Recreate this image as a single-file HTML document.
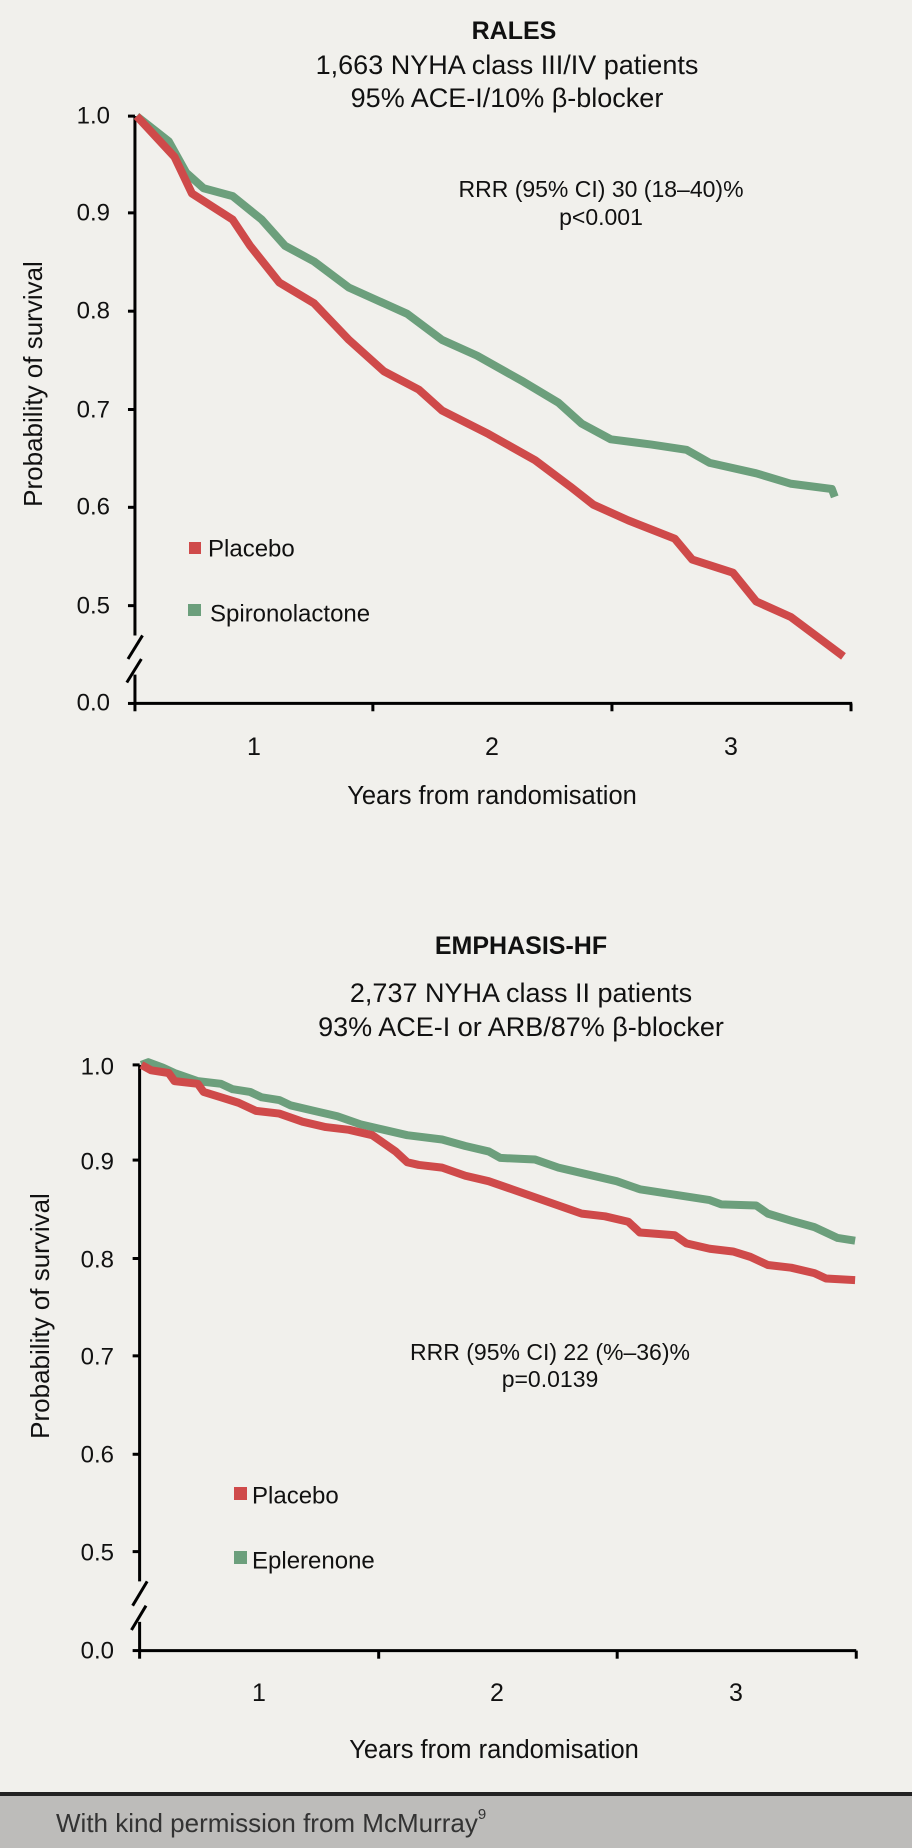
<!DOCTYPE html>
<html><head><meta charset="utf-8"><style>
html,body{margin:0;padding:0;background:#f1f0ec;}
svg{display:block;font-family:"Liberation Sans",sans-serif;}
</style></head><body>
<svg width="912" height="1848" viewBox="0 0 912 1848" xmlns="http://www.w3.org/2000/svg">
<rect width="912" height="1848" fill="#f1f0ec"/>
<!-- TOP CHART -->
<g text-anchor="middle" fill="#111" dominant-baseline="central">
<text x="514" y="31" font-size="25" font-weight="bold">RALES</text>
<text x="507" y="65" font-size="27">1,663 NYHA class III/IV patients</text>
<text x="507" y="98" font-size="27">95% ACE-I/10% β-blocker</text>
<text x="601" y="189" font-size="23">RRR (95% CI) 30 (18–40)%</text>
<text x="601" y="217" font-size="23">p&lt;0.001</text>
<text x="492" y="796" font-size="25.5">Years from randomisation</text>
<text x="254" y="747" font-size="25">1</text>
<text x="492" y="747" font-size="25">2</text>
<text x="731" y="747" font-size="25">3</text>
<text transform="translate(33,384) rotate(-90)" font-size="26">Probability of survival</text>
</g>
<g text-anchor="end" font-size="24" fill="#111" dominant-baseline="central">
<text x="110" y="116">1.0</text><text x="110" y="213">0.9</text><text x="110" y="311">0.8</text>
<text x="110" y="410">0.7</text><text x="110" y="507">0.6</text><text x="110" y="606">0.5</text><text x="110" y="703">0.0</text>
</g>
<g transform="scale(0.5817,0.5230)">
<g stroke="#000" fill="none" stroke-width="3">
<polyline points="232,222 232,1215" vector-effect="non-scaling-stroke"/>
<polyline points="232,1290 232,1345 1465,1345" vector-effect="non-scaling-stroke"/>
<line x1="220" y1="1260" x2="245" y2="1215" vector-effect="non-scaling-stroke"/>
<line x1="218" y1="1305" x2="243" y2="1260" vector-effect="non-scaling-stroke"/>
<line x1="220" y1="222" x2="232" y2="222" vector-effect="non-scaling-stroke"/>
<line x1="220" y1="407" x2="232" y2="407" vector-effect="non-scaling-stroke"/>
<line x1="220" y1="595" x2="232" y2="595" vector-effect="non-scaling-stroke"/>
<line x1="220" y1="783" x2="232" y2="783" vector-effect="non-scaling-stroke"/>
<line x1="220" y1="970" x2="232" y2="970" vector-effect="non-scaling-stroke"/>
<line x1="220" y1="1158" x2="232" y2="1158" vector-effect="non-scaling-stroke"/>
<line x1="220" y1="1345" x2="232" y2="1345" vector-effect="non-scaling-stroke"/>
<line x1="232" y1="1345" x2="232" y2="1360" vector-effect="non-scaling-stroke"/>
<line x1="641" y1="1345" x2="641" y2="1360" vector-effect="non-scaling-stroke"/>
<line x1="1052" y1="1345" x2="1052" y2="1360" vector-effect="non-scaling-stroke"/>
<line x1="1463" y1="1345" x2="1463" y2="1360" vector-effect="non-scaling-stroke"/>
</g>
<polyline fill="none" stroke="#6c9f7c" stroke-width="8" stroke-linejoin="round" vector-effect="non-scaling-stroke" points="235,222 290,270 320,330 350,360 400,375 450,420 490,470 540,500 600,550 640,570 700,600 760,650 820,680 900,730 960,770 1000,810 1050,840 1120,850 1180,860 1220,885 1300,905 1360,925 1430,935 1435,950"/>
<polyline fill="none" stroke="#cf4a4a" stroke-width="8" stroke-linejoin="round" vector-effect="non-scaling-stroke" points="235,222 300,300 330,370 400,420 430,470 480,540 540,580 600,650 660,710 720,745 760,785 840,830 920,880 980,930 1020,965 1080,995 1160,1030 1190,1070 1260,1095 1300,1150 1360,1180 1420,1230 1450,1255"/>
</g>
<rect x="189" y="542" width="12" height="12" fill="#cf4a4a"/>
<text x="208" y="549" font-size="24" fill="#111" dominant-baseline="central">Placebo</text>
<rect x="188" y="604" width="13" height="12" fill="#6c9f7c"/>
<text x="210" y="614" font-size="24" fill="#111" dominant-baseline="central">Spironolactone</text>

<!-- BOTTOM CHART -->
<g text-anchor="middle" fill="#111" dominant-baseline="central">
<text x="521" y="946" font-size="25" font-weight="bold">EMPHASIS-HF</text>
<text x="521" y="993" font-size="27">2,737 NYHA class II patients</text>
<text x="521" y="1027" font-size="27">93% ACE-I or ARB/87% β-blocker</text>
<text x="550" y="1352" font-size="23">RRR (95% CI) 22 (%–36)%</text>
<text x="550" y="1379" font-size="23">p=0.0139</text>
<text x="494" y="1750" font-size="25.5">Years from randomisation</text>
<text x="259" y="1693" font-size="25">1</text>
<text x="497" y="1693" font-size="25">2</text>
<text x="736" y="1693" font-size="25">3</text>
<text transform="translate(40,1316) rotate(-90)" font-size="26">Probability of survival</text>
</g>
<g text-anchor="end" font-size="24" fill="#111" dominant-baseline="central">
<text x="114" y="1067">1.0</text><text x="114" y="1162">0.9</text><text x="114" y="1260">0.8</text>
<text x="114" y="1357">0.7</text><text x="114" y="1455">0.6</text><text x="114" y="1553">0.5</text><text x="114" y="1651">0.0</text>
</g>
<g transform="translate(0,1000) scale(0.5817,0.5408)">
<g stroke="#000" fill="none" stroke-width="3">
<polyline points="240,120 240,1075" vector-effect="non-scaling-stroke"/>
<polyline points="240,1150 240,1203 1472,1203" vector-effect="non-scaling-stroke"/>
<line x1="228" y1="1120" x2="253" y2="1075" vector-effect="non-scaling-stroke"/>
<line x1="226" y1="1165" x2="251" y2="1120" vector-effect="non-scaling-stroke"/>
<line x1="228" y1="120" x2="240" y2="120" vector-effect="non-scaling-stroke"/>
<line x1="228" y1="296" x2="240" y2="296" vector-effect="non-scaling-stroke"/>
<line x1="228" y1="478" x2="240" y2="478" vector-effect="non-scaling-stroke"/>
<line x1="228" y1="658" x2="240" y2="658" vector-effect="non-scaling-stroke"/>
<line x1="228" y1="840" x2="240" y2="840" vector-effect="non-scaling-stroke"/>
<line x1="228" y1="1020" x2="240" y2="1020" vector-effect="non-scaling-stroke"/>
<line x1="228" y1="1203" x2="240" y2="1203" vector-effect="non-scaling-stroke"/>
<line x1="240" y1="1203" x2="240" y2="1218" vector-effect="non-scaling-stroke"/>
<line x1="651" y1="1203" x2="651" y2="1218" vector-effect="non-scaling-stroke"/>
<line x1="1061" y1="1203" x2="1061" y2="1218" vector-effect="non-scaling-stroke"/>
<line x1="1472" y1="1203" x2="1472" y2="1218" vector-effect="non-scaling-stroke"/>
</g>
<polyline fill="none" stroke="#6c9f7c" stroke-width="8" stroke-linejoin="round" vector-effect="non-scaling-stroke" points="243,120 255,115 280,125 300,135 340,150 380,155 400,165 430,170 450,180 480,185 500,195 540,205 580,215 620,230 660,240 700,250 760,258 800,270 840,280 860,292 920,295 960,310 1000,320 1060,335 1100,350 1160,360 1220,370 1240,378 1300,380 1320,395 1360,408 1400,420 1440,440 1470,445"/>
<polyline fill="none" stroke="#cf4a4a" stroke-width="8" stroke-linejoin="round" vector-effect="non-scaling-stroke" points="243,120 260,130 290,135 300,150 340,155 350,170 380,180 410,190 440,205 480,210 520,225 560,235 600,240 640,250 680,280 700,300 720,305 760,310 800,325 840,335 880,350 920,365 960,380 1000,395 1040,400 1080,410 1100,430 1160,435 1180,450 1220,460 1260,465 1290,475 1320,490 1360,495 1400,505 1420,515 1470,518"/>
</g>
<rect x="234" y="1487" width="13" height="13" fill="#cf4a4a"/>
<text x="252" y="1496" font-size="24" fill="#111" dominant-baseline="central">Placebo</text>
<rect x="234" y="1551" width="13" height="13" fill="#6c9f7c"/>
<text x="252" y="1561" font-size="24" fill="#111" dominant-baseline="central">Eplerenone</text>

<!-- FOOTER -->
<rect x="0" y="1796" width="912" height="52" fill="#bdbcba"/>
<rect x="0" y="1792" width="912" height="4" fill="#222"/>
<text x="56" y="1823" font-size="26" fill="#333" dominant-baseline="central">With kind permission from McMurray<tspan font-size="15" dy="-9">9</tspan></text>
</svg>
</body></html>
